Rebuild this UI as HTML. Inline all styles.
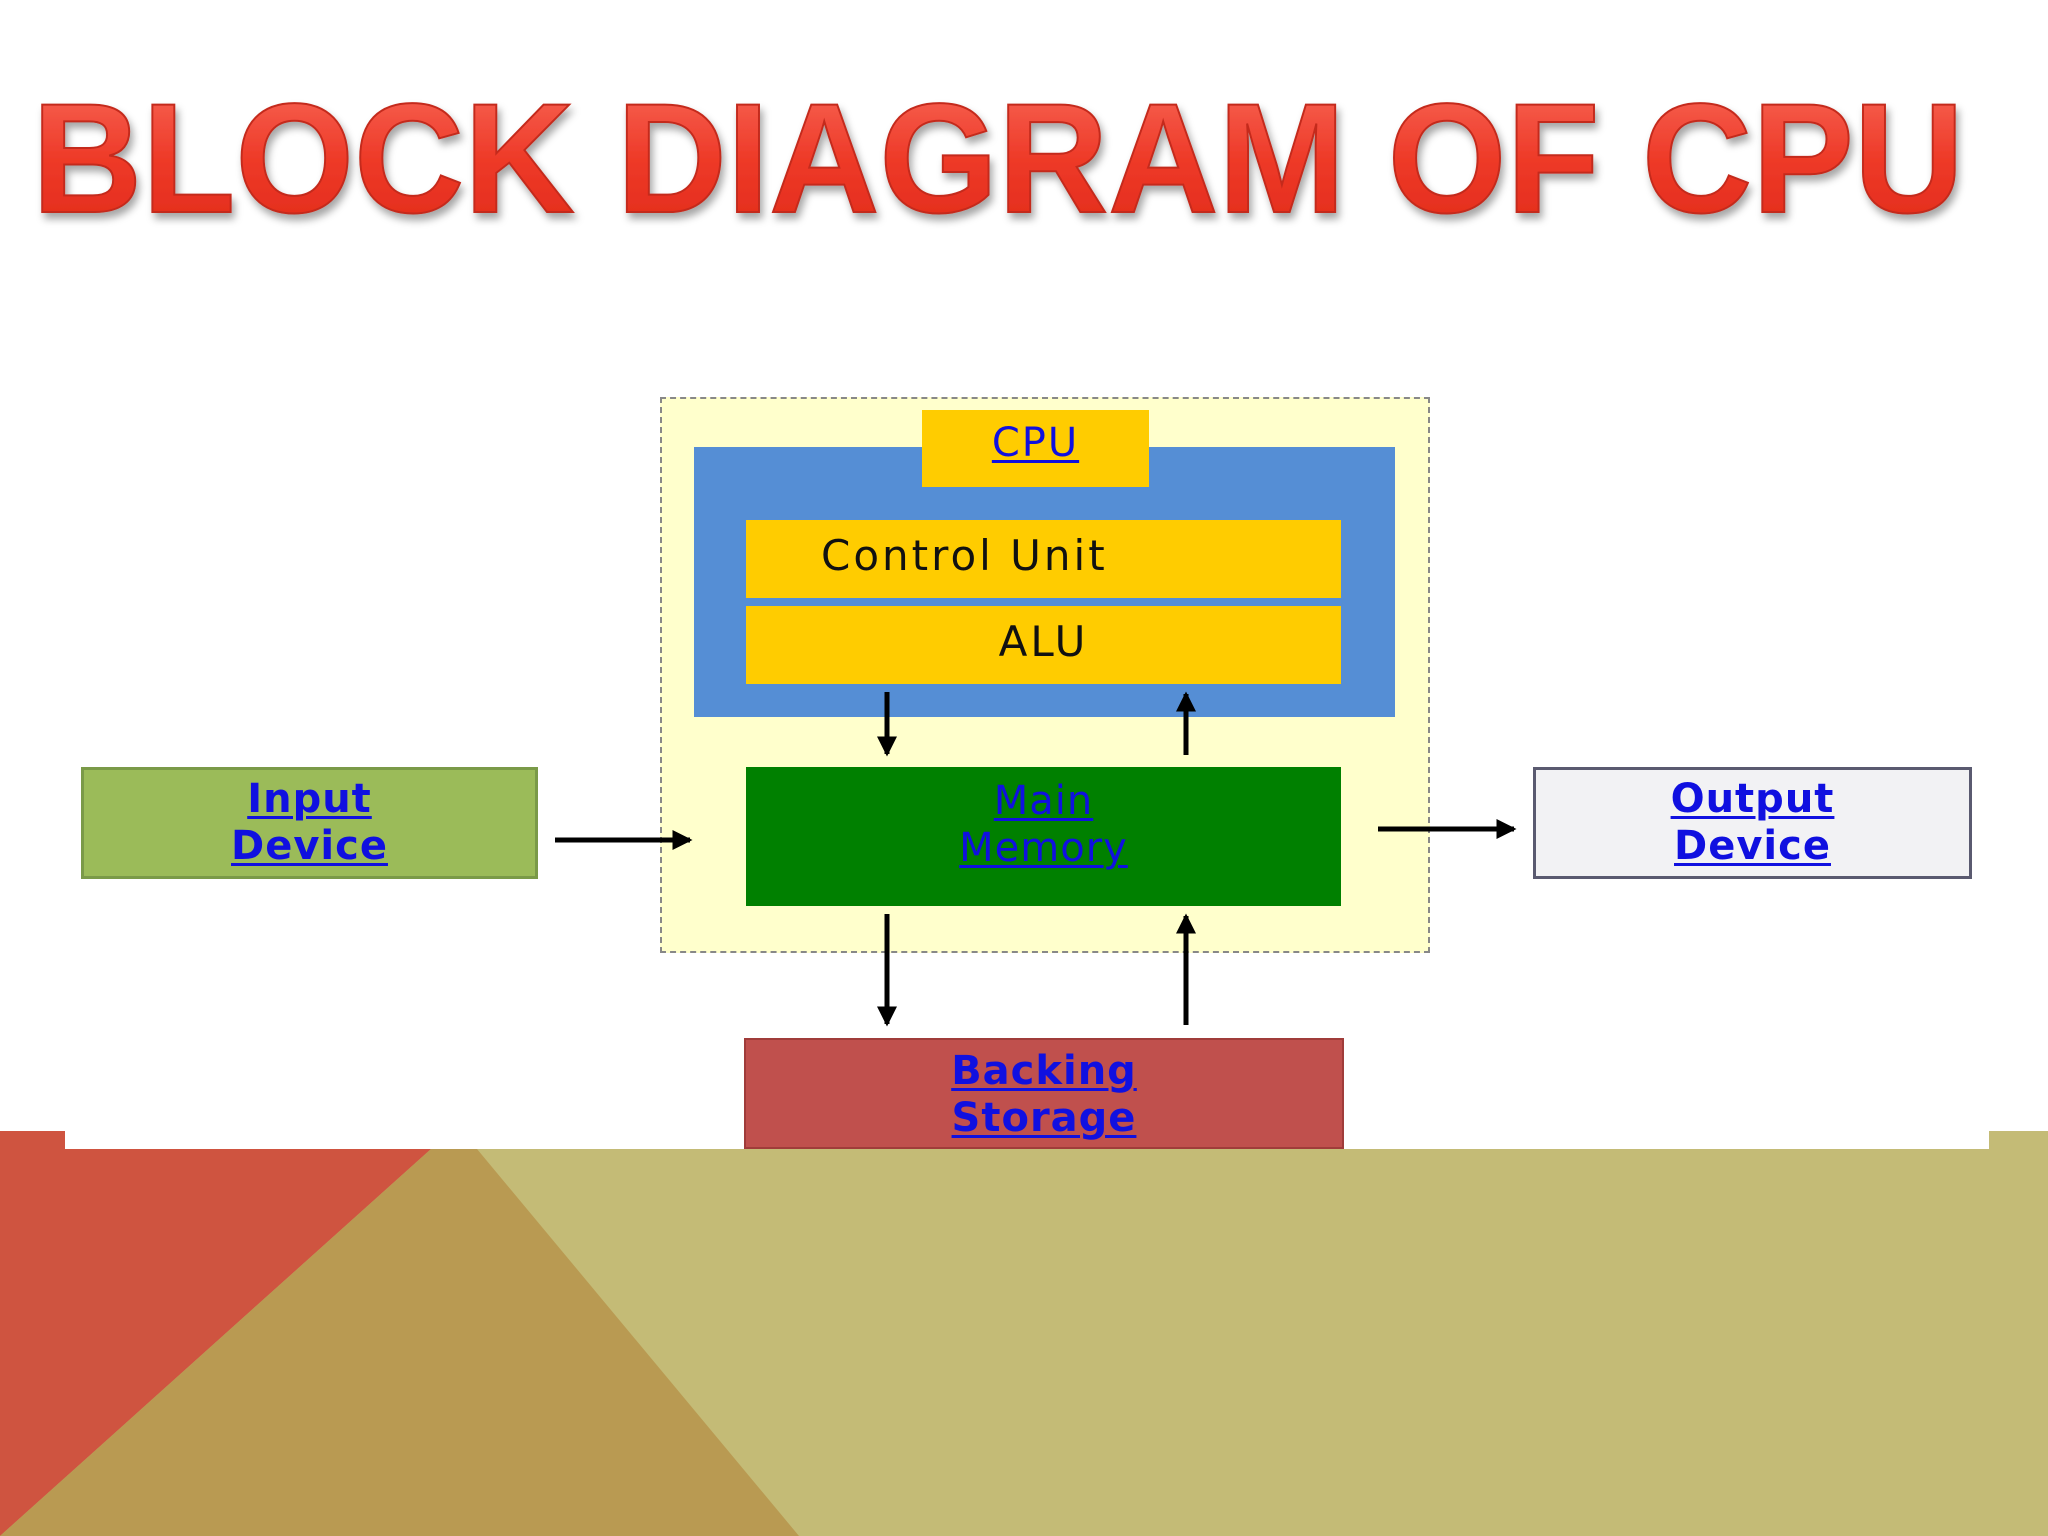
<!DOCTYPE html>
<html><head><meta charset="utf-8"><style>
html,body{margin:0;padding:0;background:#fff;}
body{width:2048px;height:1536px;position:relative;overflow:hidden;font-family:"DejaVu Sans","Liberation Sans",sans-serif;}
.a{position:absolute;box-sizing:border-box;}
.lnk{color:#1010e0;font-weight:bold;text-decoration:underline;text-decoration-thickness:3px;text-underline-offset:4px;}
.c{display:flex;align-items:center;justify-content:center;text-align:center;line-height:47px;font-size:40px;}
</style></head><body>
<svg class="a" style="left:0;top:0" width="2048" height="1536">
 <defs>
  <linearGradient id="g" x1="0" y1="0" x2="0" y2="1">
   <stop offset="0" stop-color="#f86a5a"/><stop offset="0.5" stop-color="#ee3a28"/><stop offset="1" stop-color="#e02818"/>
  </linearGradient>
  <filter id="s"><feDropShadow dx="3" dy="6" stdDeviation="4" flood-color="#000" flood-opacity="0.35"/></filter>
 </defs>
 <text x="32" y="212" textLength="1932" lengthAdjust="spacingAndGlyphs" font-family="Liberation Sans, sans-serif" font-weight="bold" font-size="156" fill="url(#g)" stroke="#c42a1c" stroke-width="2" filter="url(#s)">BLOCK DIAGRAM OF CPU</text>
 <rect x="0" y="1131" width="2048" height="405" fill="#c4bb76"/>
 <rect x="65" y="1131" width="1924" height="18" fill="#fff"/>
 <polygon points="0,1131 65,1131 65,1149 431,1149 0,1536" fill="#cf5440"/>
 <polygon points="431,1149 477,1149 799,1536 0,1536" fill="#b99a52"/>
</svg>
<div class="a" style="left:660px;top:397px;width:770px;height:556px;background:#ffffcc;border:2px dashed #888;"></div>
<div class="a" style="left:694px;top:447px;width:701px;height:270px;background:#558ed5;"></div>
<div class="a c" style="left:922px;top:410px;width:227px;height:77px;background:#ffcc00;padding-bottom:10px;"><span class="lnk" style="font-weight:normal;letter-spacing:2px;">CPU</span></div>
<div class="a c" style="left:746px;top:520px;width:595px;height:78px;background:#ffcc00;justify-content:flex-start;padding-left:75px;padding-bottom:8px;font-size:42px;letter-spacing:3px;color:#111;">Control Unit</div>
<div class="a c" style="left:746px;top:606px;width:595px;height:78px;background:#ffcc00;color:#111;padding-left:0px;padding-bottom:8px;font-size:42px;letter-spacing:3px;">ALU</div>
<div class="a c" style="left:746px;top:767px;width:595px;height:139px;background:#008000;padding-bottom:24px;"><span class="lnk" style="font-weight:normal;letter-spacing:1px;">Main<br>Memory</span></div>
<div class="a c" style="left:81px;top:767px;width:457px;height:112px;background:#9bbb59;border:3px solid #7a9a48;"><span class="lnk" style="letter-spacing:1px;">Input<br>Device</span></div>
<div class="a c" style="left:1533px;top:767px;width:439px;height:112px;background:#f2f2f4;border:3px solid #5a5a70;"><span class="lnk" style="letter-spacing:1px;">Output<br>Device</span></div>
<div class="a c" style="left:744px;top:1038px;width:600px;height:111px;background:#c0504d;border:2px solid #a03c3a;align-items:flex-start;padding-top:8px;"><span class="lnk" style="letter-spacing:1px;">Backing<br>Storage</span></div>
<svg class="a" style="left:0;top:0" width="2048" height="1536">
 <defs><marker id="ar" markerWidth="4" markerHeight="4" refX="3.5" refY="2" orient="auto" markerUnits="strokeWidth"><path d="M0,0 L4,2 L0,4 z" fill="#000"/></marker></defs>
 <g stroke="#000" stroke-width="5" fill="none" marker-end="url(#ar)">
  <line x1="555" y1="840" x2="690" y2="840"/>
  <line x1="1378" y1="829" x2="1514" y2="829"/>
  <line x1="887" y1="692" x2="887" y2="754"/>
  <line x1="1186" y1="755" x2="1186" y2="694"/>
  <line x1="887" y1="914" x2="887" y2="1024"/>
  <line x1="1186" y1="1025" x2="1186" y2="916"/>
 </g>
</svg>
</body></html>
